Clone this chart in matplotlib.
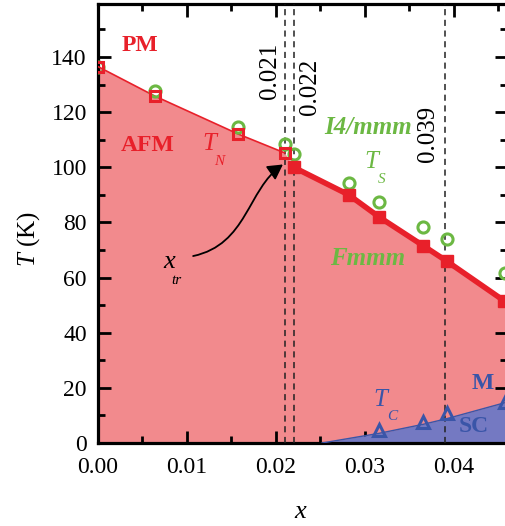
import matplotlib
matplotlib.use("Agg")
import matplotlib.pyplot as plt
from matplotlib.path import Path
from matplotlib.patches import FancyArrowPatch
from matplotlib.ticker import MultipleLocator

plt.rcParams["font.family"] = ["Liberation Serif", "DejaVu Serif"]
plt.rcParams["mathtext.fontset"] = "custom"
plt.rcParams["mathtext.it"] = "Liberation Serif:italic"
plt.rcParams["mathtext.rm"] = "Liberation Serif"

# T_N (red squares): open below x_tr, filled above
tn_x = [0.0, 0.0064, 0.0158, 0.0210, 0.0220, 0.0282, 0.0316, 0.0366, 0.0392, 0.0457]
tn_t = [136.5, 125.8, 112.0, 105.2, 100.0, 90.0, 82.0, 71.5, 66.0, 51.5]
tn_open = 4  # first four points are open squares

# T_S (green circles)
ts_x = [0.0, 0.0064, 0.0158, 0.0210, 0.0221, 0.0282, 0.0316, 0.0366, 0.0392, 0.0458]
ts_t = [136.5, 127.8, 114.6, 108.3, 104.8, 94.3, 87.4, 78.5, 73.8, 61.5]

# T_C (blue triangles) and SC dome edge
tc_x = [0.0316, 0.0366, 0.0392, 0.0458]
tc_t = [4.7, 7.7, 10.8, 15.0]
sc_x = [0.0252, 0.0316, 0.0366, 0.0392, 0.0462]
sc_t = [0.0, 3.5, 6.8, 8.8, 15.0]

# marked compositions
x_marks = [0.021, 0.022, 0.039]
x_mark_labels = ["0.021", "0.022", "0.039"]

RED = "#e8202a"
RED_FILL = "#f28a8d"
GREEN = "#6cb843"
BLUE = "#3a55a8"
BLUE_FILL = "#7479c2"

fig = plt.figure(figsize=(5.05, 5.26), dpi=100)
ax = fig.add_axes([98 / 505, 1 - 443 / 526, 409 / 505, 439 / 526])

# phase regions
ax.fill_between(tn_x + [0.047], tn_t + [48.0], 0, color=RED_FILL, lw=0, zorder=1)
ax.fill_between(sc_x, sc_t, 0, color=BLUE_FILL, lw=0, zorder=2)
ax.plot(sc_x, sc_t, color=BLUE, lw=1.0, zorder=3)

# dashed marker lines with labels
label_pos = [(0.0193, 135), (0.0238, 129), (0.0371, 112)]
for xm, lab, (lx, ly) in zip(x_marks, x_mark_labels, label_pos):
    ax.axvline(xm, color="#222222", lw=1.1, ls=(0, (4, 3)), zorder=4)
    ax.text(lx, ly, lab, rotation=90, fontsize=18, ha="center", va="center")

# T_N line: thin up to x_tr, thick after
ax.plot(tn_x[:tn_open], tn_t[:tn_open], color=RED, lw=1.2, zorder=5)
ax.plot(tn_x[tn_open:] + [0.047], tn_t[tn_open:] + [48.0], color=RED, lw=4, zorder=5)

# T_S circles
ax.plot(ts_x, ts_t, ls="none", marker="o", ms=8, mfc="none", mec=GREEN, mew=2.2, zorder=6)
# T_N squares
ax.plot(tn_x[:tn_open], tn_t[:tn_open], ls="none", marker="s", ms=7, mfc="none",
        mec=RED, mew=2.2, zorder=7)
ax.plot(tn_x[tn_open:], tn_t[tn_open:], ls="none", marker="s", ms=8, mfc=RED,
        mec=RED, zorder=7)
# T_C triangles
ax.plot(tc_x, tc_t, ls="none", marker="^", ms=9, mfc="none", mec=BLUE, mew=2.2, zorder=7)

ax.set_xlim(0, 0.0460)
ax.set_ylim(0, 159.2)

# labels in the diagram
ax.text(0.0026, 144, "PM", color=RED, fontsize=17, fontweight="bold", va="center")
ax.text(0.0026, 108, "AFM", color=RED, fontsize=17, fontweight="bold", va="center")
ax.text(0.0117, 108.5, "T", color=RED, fontsize=18, style="italic", va="center")
ax.text(0.0131, 102.0, "N", color=RED, fontsize=11, style="italic", va="center")
ax.text(0.0255, 114.5, "I4/mmm", color=GREEN, fontsize=18, fontweight="bold",
        style="italic", va="center")
ax.text(0.0300, 102, "T", color=GREEN, fontsize=18, style="italic", va="center")
ax.text(0.0315, 95.5, "S", color=GREEN, fontsize=11, style="italic", va="center")
ax.text(0.0261, 67, "Fmmm", color=GREEN, fontsize=18, fontweight="bold",
        style="italic", va="center")
ax.text(0.0074, 65.5, "x", color="black", fontsize=19, style="italic", va="center")
ax.text(0.0082, 59.0, "tr", color="black", fontsize=11, style="italic", va="center")
ax.text(0.0310, 15.5, "T", color=BLUE, fontsize=18, style="italic", va="center")
ax.text(0.0325, 9.5, "C", color=BLUE, fontsize=11, style="italic", va="center")
ax.text(0.0406, 6.0, "SC", color=BLUE, fontsize=17, fontweight="bold", va="center")
ax.text(0.0420, 21.5, "M", color=BLUE, fontsize=17, fontweight="bold", va="center")

# curved arrow from x_tr to the transition point
verts = [(0.0107, 67.8), (0.0168, 72.0), (0.0168, 92.0), (0.0208, 101.0)]
codes = [Path.MOVETO, Path.CURVE4, Path.CURVE4, Path.CURVE4]
arrow = FancyArrowPatch(path=Path(verts, codes), arrowstyle="-|>,head_length=9,head_width=5",
                        color="black", lw=1.3, zorder=8)
ax.add_patch(arrow)

# axes styling
ax.xaxis.set_minor_locator(MultipleLocator(0.005))
ax.yaxis.set_minor_locator(MultipleLocator(10))
ax.set_xticks([0.0, 0.01, 0.02, 0.03, 0.04])
ax.set_xticklabels(["0.00", "0.01", "0.02", "0.03", "0.04"])
ax.set_yticks([0, 20, 40, 60, 80, 100, 120, 140])
ax.tick_params(which="both", direction="in", top=True, right=True, width=2, labelsize=17)
ax.tick_params(which="major", length=9)
ax.tick_params(which="minor", length=5)
ax.tick_params(axis="x", which="major", pad=10)
ax.tick_params(axis="y", which="major", pad=8)
for s in ax.spines.values():
    s.set_linewidth(2.3)

fig.text(300 / 505, 1 - 512 / 526, "x", fontsize=19, style="italic", ha="center", va="center")
fig.text(29 / 505, 1 - 239 / 526, "$T$ (K)", fontsize=18, rotation=90, ha="center", va="center")

fig.savefig("out.png", dpi=100)
